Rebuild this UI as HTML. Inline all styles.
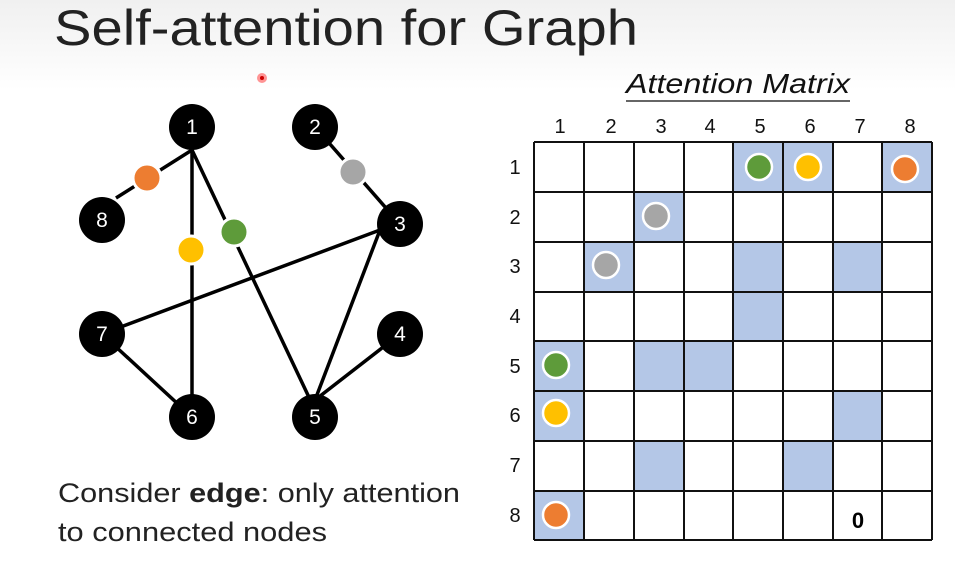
<!DOCTYPE html>
<html><head><meta charset="utf-8"><style>
body{margin:0;width:955px;height:563px;overflow:hidden;background:linear-gradient(#f0f0f0 0,#fff 90px);font-family:"Liberation Sans",sans-serif;position:relative}
</style></head><body>
<svg width="955" height="563" style="position:absolute;left:0;top:0" font-family="Liberation Sans, sans-serif">
<text x="54" y="45" font-size="50" fill="#222" textLength="584" lengthAdjust="spacingAndGlyphs">Self-attention for Graph</text>
<circle cx="262" cy="78" r="5" fill="#f66" opacity="0.7"/><circle cx="262" cy="78" r="2" fill="#c00"/>
<text x="626" y="93" font-size="28" font-style="italic" fill="#111" textLength="224" lengthAdjust="spacingAndGlyphs">Attention Matrix</text>
<line x1="626" y1="101" x2="850" y2="101" stroke="#333" stroke-width="1.5"/>
<g stroke="#000" stroke-width="3.5">
<line x1="192" y1="150" x2="116" y2="198"/>
<line x1="192" y1="150" x2="192" y2="417"/>
<line x1="192" y1="150" x2="315" y2="410"/>
<line x1="315" y1="127" x2="400" y2="224"/>
<line x1="380" y1="230" x2="102" y2="334"/>
<line x1="380" y1="230" x2="315" y2="400"/>
<line x1="400" y1="334" x2="315" y2="400"/>
<line x1="102" y1="334" x2="192" y2="417"/>
</g>
<g fill="#000">
<circle cx="192" cy="127" r="23"/><circle cx="315" cy="127" r="23"/><circle cx="400" cy="224" r="23"/><circle cx="102" cy="220" r="23"/>
<circle cx="102" cy="334" r="23"/><circle cx="400" cy="334" r="23"/><circle cx="192" cy="417" r="23"/><circle cx="315" cy="417" r="23"/>
</g>
<g fill="#fff" font-size="21" text-anchor="middle">
<text x="192" y="134">1</text><text x="315" y="134">2</text><text x="400" y="231">3</text><text x="102" y="227">8</text>
<text x="102" y="341">7</text><text x="400" y="341">4</text><text x="192" y="424">6</text><text x="315" y="424">5</text>
</g>
<g stroke="#fff" stroke-width="3">
<circle cx="147" cy="178" r="14" fill="#ed7d31"/>
<circle cx="191" cy="250" r="14" fill="#ffc000"/>
<circle cx="234" cy="232" r="14" fill="#5e9b3a"/>
<circle cx="353" cy="172" r="14" fill="#a6a6a6"/>
</g>
<g fill="#b4c7e7">
<rect x="733" y="142" width="50" height="50"/><rect x="783" y="142" width="50" height="50"/><rect x="882" y="142" width="50" height="50"/>
<rect x="634" y="192" width="50" height="50"/>
<rect x="584" y="242" width="50" height="50"/><rect x="733" y="242" width="50" height="50"/><rect x="833" y="242" width="50" height="50"/>
<rect x="733" y="292" width="50" height="50"/>
<rect x="534" y="341" width="50" height="50"/><rect x="634" y="341" width="50" height="50"/><rect x="684" y="341" width="50" height="50"/>
<rect x="534" y="391" width="50" height="50"/><rect x="833" y="391" width="50" height="50"/>
<rect x="634" y="441" width="50" height="50"/><rect x="783" y="441" width="50" height="50"/>
<rect x="534" y="491" width="50" height="50"/>
</g>
<g stroke="#111" stroke-width="2">
<line x1="534" y1="142" x2="534" y2="540"/><line x1="584" y1="142" x2="584" y2="540"/><line x1="634" y1="142" x2="634" y2="540"/><line x1="684" y1="142" x2="684" y2="540"/><line x1="733" y1="142" x2="733" y2="540"/><line x1="783" y1="142" x2="783" y2="540"/><line x1="833" y1="142" x2="833" y2="540"/><line x1="882" y1="142" x2="882" y2="540"/><line x1="932" y1="142" x2="932" y2="540"/>
<line x1="534" y1="142" x2="932" y2="142"/><line x1="534" y1="192" x2="932" y2="192"/><line x1="534" y1="242" x2="932" y2="242"/><line x1="534" y1="292" x2="932" y2="292"/><line x1="534" y1="341" x2="932" y2="341"/><line x1="534" y1="391" x2="932" y2="391"/><line x1="534" y1="441" x2="932" y2="441"/><line x1="534" y1="491" x2="932" y2="491"/><line x1="534" y1="540" x2="932" y2="540"/>
</g>
<g font-size="20" text-anchor="middle" fill="#111">
<text x="560" y="133">1</text><text x="611" y="133">2</text><text x="661" y="133">3</text><text x="710" y="133">4</text><text x="760" y="133">5</text><text x="810" y="133">6</text><text x="860" y="133">7</text><text x="910" y="133">8</text>
<text x="515" y="174">1</text><text x="515" y="224">2</text><text x="515" y="273">3</text><text x="515" y="323">4</text><text x="515" y="373">5</text><text x="515" y="422">6</text><text x="515" y="472">7</text><text x="515" y="522">8</text>
</g>
<text x="858" y="528" font-size="22" font-weight="bold" text-anchor="middle">0</text>
<g stroke="#fff" stroke-width="2.5">
<circle cx="759" cy="167" r="13" fill="#5e9b3a"/><circle cx="808" cy="167" r="13" fill="#ffc000"/><circle cx="905" cy="169" r="13" fill="#ed7d31"/>
<circle cx="656" cy="216" r="13" fill="#a6a6a6"/><circle cx="606" cy="265" r="13" fill="#a6a6a6"/>
<circle cx="556" cy="365" r="13" fill="#5e9b3a"/><circle cx="556" cy="413" r="13" fill="#ffc000"/><circle cx="556" cy="515" r="13" fill="#ed7d31"/>
</g>
<text x="58" y="502" font-size="27" fill="#222" textLength="402" lengthAdjust="spacingAndGlyphs">Consider <tspan font-weight="bold">edge</tspan>: only attention</text>
<text x="58" y="541" font-size="27" fill="#222" textLength="269" lengthAdjust="spacingAndGlyphs">to connected nodes</text>
</svg>
</body></html>
